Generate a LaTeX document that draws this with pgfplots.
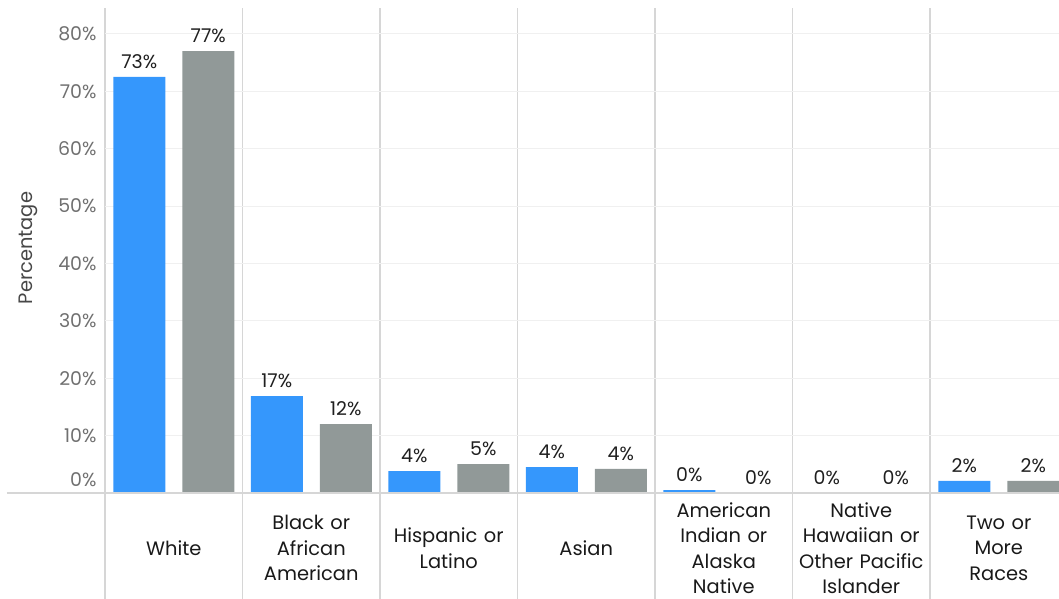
\documentclass[border=0pt]{standalone}
\usepackage{pgfplots}
\pgfplotsset{compat=1.18}
\usepackage{fontspec}
\setmainfont{Poppins}
\definecolor{cblue}{HTML}{3597FC}
\definecolor{cgray}{HTML}{919998}
\definecolor{sep}{HTML}{D6D6D6}
\definecolor{grid}{HTML}{F0F0F0}
\definecolor{ticklab}{HTML}{707070}
\begin{document}
\begin{tikzpicture}
\begin{axis}[name=ax, at={(0,0)}, anchor=south west,
  width=954bp, height=485bp, scale only axis,
  ybar, bar width=52bp,
  xmin=-0.5, xmax=6.438, ymin=0, ymax=84.5,
  clip=false,
  axis line style={draw=none},
  xtick={0,...,6},
  xticklabels={White,{Black or\\African\\American},{Hispanic or\\Latino},Asian,{American\\Indian or\\Alaska\\Native},{Native\\Hawaiian or\\Other Pacific\\Islander},{Two or\\More\\Races}},
  minor xtick={-0.5,0.5,...,6.5},
  xtick align=outside,
  xtick pos=bottom,
  major tick length=0pt,
  minor tick length=106bp,
  minor x tick style={draw=sep, line width=1.1bp},
  major x tick style={draw=none},
  xminorgrids,
  minor x grid style={draw=sep, line width=1.1bp},
  xticklabel style={font=\fontsize{19.5}{25.5}\selectfont, align=center, text width=136bp, anchor=center, yshift=-55bp, color=black!90},
  ytick={10,20,...,80},
  ymajorgrids,
  major y grid style={draw=grid, line width=1bp},
  ytick style={draw=none},
  /pgf/number format/assume math mode=true,
  yticklabel={\pgfmathprintnumber{\tick}\%},
  yticklabel style={font=\fontsize{19}{20}\selectfont, color=ticklab, xshift=-5bp},
  extra y ticks={0},
  extra y tick style={grid=none, yticklabel style={yshift=13bp}},
  every node near coord/.append style={font=\fontsize{19}{20}\selectfont, color=black!88, anchor=south, yshift=4.5bp},
]
\addplot[bar shift=-34.5bp, fill=cblue, draw=none,
  point meta=explicit symbolic, nodes near coords={\pgfplotspointmeta\%}]
  coordinates {(0,72.5)[73] (1,16.9)[17] (2,3.8)[4] (3,4.5)[4] (4,0.5)[0] (5,0)[0] (6,2.1)[2]};
\addplot[bar shift=34.5bp, fill=cgray, draw=none,
  point meta=explicit symbolic, nodes near coords={\pgfplotspointmeta\%}]
  coordinates {(0,77.0)[77] (1,12.0)[12] (2,5.05)[5] (3,4.2)[4] (4,0)[0] (5,0)[0] (6,2.1)[2]};
\end{axis}
\draw[draw=sep, line width=1.3bp] (-98bp,0) -- (954bp,0);
\node[rotate=90, font=\fontsize{19.5}{20}\selectfont, color=black!72] at (-77bp,245bp) {Percentage};
\pgfresetboundingbox
\path[use as bounding box] (-105bp,-106bp) rectangle (954bp,493bp);
\end{tikzpicture}
\end{document}
